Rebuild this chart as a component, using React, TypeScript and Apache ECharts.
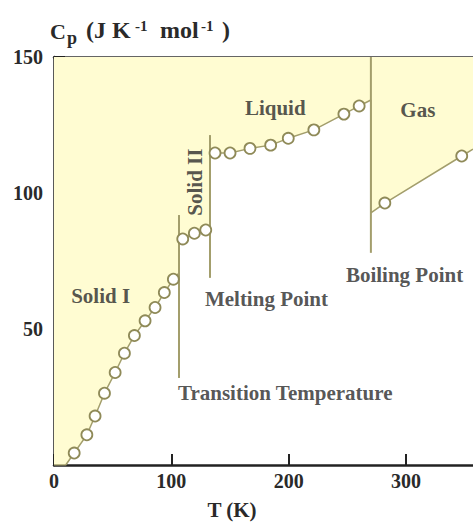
import React, { useEffect, useRef } from "react";
import * as echarts from "echarts";

// Heat capacity data [T (K), Cp (J K-1 mol-1)]
const solidI: number[][] = [
  [17.2, 4.4], [28, 11.1], [35, 18.0], [43, 26.4], [52.1, 34], [60, 41.1],
  [68.5, 47.6], [77.6, 53], [86.1, 57.9], [94, 63.4], [101.7, 68.3],
];
const solidII: number[][] = [[109.7, 83.1], [119.6, 85.2], [129.3, 86.4]];
const liquid: number[][] = [
  [137.2, 114.7], [150, 114.7], [167, 116.4], [184.6, 117.6], [199.6, 120.1],
  [221.4, 123.2], [247, 129], [260, 132],
];
const gas: number[][] = [[281.9, 96.3], [347.4, 113.6]];

// Phase-change temperatures and vertical marker spans [T, CpLow, CpHigh]
const transitionLine = [106.5, 32, 91.9];
const meltingLine = [132.9, 68.8, 121.3];
const boilingLine = [270, 78, 150];

// Curve anchors (start, jumps at phase changes, end)
const curveStart: number[][] = [[0, 0], [10, 0]];
const transitionJump: number[][] = [[106.5, 70.6], [106.5, 82.5]];
const meltingJump: number[][] = [[132.9, 86.6], [132.9, 114.2]];
const boilingJump: number[][] = [[270, 134.2], [270, 92.7]];
const curveEnd: number[][] = [[357, 116.1]];

const xTickLabels = [0, 100, 200, 300];
const yTickLabels = [50, 100, 150];

// Region / annotation labels [T, Cp, text, rotate]
const labels: [number, number, string, number][] = [
  [39.7, 62, "Solid I", 0],
  [120, 104, "Solid II", 90],
  [181, 61.2, "Melting Point", 0],
  [197, 26.4, "Transition Temperature", 0],
  [188.5, 131.3, "Liquid", 0],
  [310, 130.5, "Gas", 0],
  [298.7, 69.7, "Boiling Point", 0],
];

const FONT = "'Liberation Serif', 'Times New Roman', serif";
const TEXT = "#2a2a2a";
const OLIVE = "#a39e6c";
const FILL = "#fffcd2";

export default function App() {
  const ref = useRef<HTMLDivElement>(null);
  useEffect(() => {
    document.body.style.margin = "0";
    const chart = echarts.init(ref.current!, undefined, { renderer: "svg" });
    const boundary = [
      ...curveStart, ...solidI, ...transitionJump, ...solidII,
      ...meltingJump, ...liquid, ...boilingJump, ...gas, ...curveEnd,
    ];
    const vline = (l: number[]) => ({
      type: "line",
      data: [[l[0], l[1]], [l[0], l[2]]],
      symbol: "none",
      silent: true,
      lineStyle: { color: OLIVE, width: 2 },
      z: 3,
    });
    const txt = (x: number, y: number, text: string, size: number, weight = "bold") => ({
      type: "text",
      x,
      y,
      style: {
        text,
        fontFamily: FONT,
        fontSize: size,
        fontWeight: weight,
        fill: TEXT,
        align: "left",
        verticalAlign: "bottom",
      },
    });
    const xMin = 0, xMax = 357;
    chart.setOption({
      animation: false,
      grid: { left: 54, right: 0, top: 57, bottom: 60 },
      xAxis: [
        {
          type: "value", min: xMin, max: xMax, interval: 100,
          axisLine: { lineStyle: { color: "#222", width: 2.5 } },
          axisTick: { inside: true, length: 11, lineStyle: { color: "#222", width: 2 } },
          axisLabel: {
            fontFamily: FONT, fontSize: 20, fontWeight: "bold", color: TEXT, margin: 6,
            showMaxLabel: false,
            formatter: (v: number) => (xTickLabels.includes(v) ? String(v) : ""),
          },
          splitLine: { show: false },
        },
        {
          type: "value", position: "top", min: xMin, max: xMax,
          axisLine: { show: true, lineStyle: { color: "#333", width: 2.5 } },
          axisTick: { show: false }, axisLabel: { show: false }, splitLine: { show: false },
        },
      ],
      yAxis: {
        type: "value", min: 0, max: 150, interval: 50,
        axisLine: { show: true, lineStyle: { color: "#222", width: 2.5 } },
        axisTick: { show: true, inside: true, length: 11, lineStyle: { color: "#222", width: 2 } },
        axisLabel: {
          fontFamily: FONT, fontSize: 20, fontWeight: "bold", color: TEXT, margin: 11,
          showMinLabel: false,
          formatter: (v: number) => (yTickLabels.includes(v) ? String(v) : ""),
        },
        splitLine: { show: false },
      },
      series: [
        {
          type: "line",
          data: boundary,
          symbol: "none",
          silent: true,
          lineStyle: { color: OLIVE, width: 1.5 },
          areaStyle: { origin: "end", color: FILL, opacity: 1 },
          z: 2,
        },
        vline(transitionLine),
        vline(meltingLine),
        vline(boilingLine),
        {
          type: "scatter",
          data: [...solidI, ...solidII, ...liquid, ...gas],
          symbol: "circle",
          symbolSize: 11,
          itemStyle: { color: "#ffffff", borderColor: "#8f8a58", borderWidth: 1.8, opacity: 1 },
          z: 4,
        },
        {
          type: "scatter",
          symbolSize: 0,
          silent: true,
          data: labels.map(([t, c, s, r]) => ({
            value: [t, c],
            name: s,
            label: { rotate: r },
          })),
          label: {
            show: true,
            position: "inside",
            formatter: (p: any) => p.name,
            fontFamily: FONT,
            fontSize: 21,
            fontWeight: "bold",
            color: TEXT,
          },
          z: 5,
        },
      ],
      graphic: [
        txt(50, 42, "C", 22),
        txt(67, 47, "p", 18),
        txt(86, 42, "(J K", 24),
        txt(135, 33, "-1", 15),
        txt(160, 42, "mol", 24),
        txt(201, 33, "-1", 15),
        txt(222, 42, ")", 24),
        {
          type: "text",
          x: 232,
          y: 510,
          style: {
            text: "T (K)", fontFamily: FONT, fontSize: 21, fontWeight: "bold", fill: TEXT,
            align: "center", verticalAlign: "middle",
          },
        },
      ],
    });
    return () => chart.dispose();
  }, []);
  return <div ref={ref} style={{ width: 473, height: 525 }} />;
}
